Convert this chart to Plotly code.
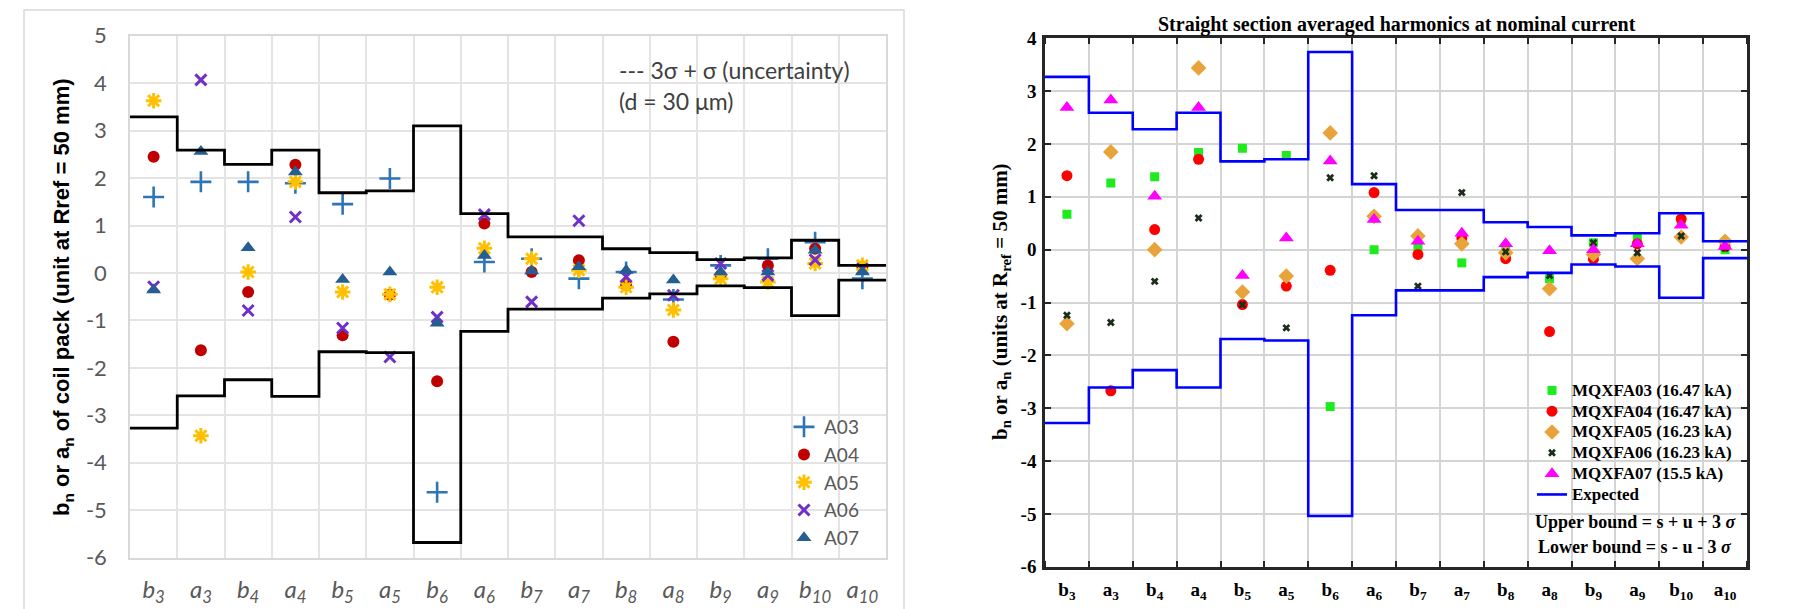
import plotly.graph_objects as go

categories = ["b3", "a3", "b4", "a4", "b5", "a5", "b6", "a6",
              "b7", "a7", "b8", "a8", "b9", "a9", "b10", "a10"]

# Left panel: coil pack harmonics
A03 = [1.60, 1.92, 1.92, 1.89, 1.45, 1.99, -4.62, 0.23, 0.30, -0.12, 0.02, -0.56, 0.16, 0.30, 0.65, -0.12]
A04 = [2.45, -1.63, -0.40, 2.28, -1.31, -0.46, -2.28, 1.04, 0.02, 0.27, -0.26, -1.45, -0.05, 0.16, 0.51, 0.13]
A05 = [3.63, -3.43, 0.02, 1.92, -0.40, -0.45, -0.30, 0.52, 0.30, 0.06, -0.30, -0.78, -0.12, -0.19, 0.20, 0.16]
A06 = [-0.29, 4.07, -0.79, 1.18, -1.16, -1.77, -0.93, 1.23, -0.61, 1.10, -0.08, -0.47, 0.20, -0.05, 0.28, 0.09]
A07 = [-0.36, 2.56, 0.53, 2.13, -0.14, 0.02, -1.06, 0.37, 0.04, 0.13, 0.05, -0.15, 0.02, 0.02, 0.48, 0.02]
left_upper = [3.29, 2.59, 2.29, 2.59, 1.69, 1.73, 3.10, 1.25, 0.76, 0.76, 0.51, 0.43, 0.28, 0.32, 0.69, 0.16]
left_lower = [-3.27, -2.59, -2.25, -2.60, -1.66, -1.68, -5.68, -1.23, -0.76, -0.76, -0.53, -0.44, -0.27, -0.31, -0.90, -0.15]
left_yticks = [5, 4, 3, 2, 1, 0, -1, -2, -3, -4, -5, -6]

# Right panel: magnet averaged harmonics
MQXFA03 = [0.67, 1.26, 1.38, 1.84, 1.92, 1.78, -2.97, 0.00, 0.06, -0.25, 0.02, -0.55, 0.13, 0.21, 0.50, 0.00]
MQXFA04 = [1.40, -2.67, 0.38, 1.71, -1.04, -0.69, -0.39, 1.08, -0.09, 0.22, -0.17, -1.55, -0.18, 0.11, 0.58, 0.06]
MQXFA05 = [-1.40, 1.85, 0.00, 3.44, -0.80, -0.50, 2.21, 0.63, 0.26, 0.11, -0.06, -0.74, -0.09, -0.17, 0.24, 0.16]
MQXFA06 = [-1.24, -1.38, -0.60, 0.60, -1.04, -1.48, 1.36, 1.40, -0.69, 1.08, -0.04, -0.49, 0.13, -0.06, 0.26, 0.03]
MQXFA07 = [2.69, 2.83, 1.01, 2.69, -0.49, 0.22, 1.68, 0.57, 0.16, 0.31, 0.11, -0.02, 0.00, 0.11, 0.46, 0.06]
right_upper = [3.27, 2.59, 2.28, 2.59, 1.67, 1.71, 3.74, 1.24, 0.75, 0.75, 0.52, 0.43, 0.27, 0.31, 0.69, 0.16]
right_lower = [-3.28, -2.61, -2.28, -2.61, -1.69, -1.72, -5.04, -1.24, -0.77, -0.77, -0.52, -0.44, -0.28, -0.32, -0.91, -0.16]
right_yticks = [4, 3, 2, 1, 0, -1, -2, -3, -4, -5, -6]

W, H = 1798, 609
idx = list(range(len(categories)))


def step_xy(vals):
    xs, ys = [], []
    for i, v in enumerate(vals):
        xs += [i - 0.5, i + 0.5]
        ys += [v, v]
    return xs, ys


fig = go.Figure()

GRAY_TXT = "#595959"
# ---------- left panel ----------
left_series = [
    ("A03", A03, dict(symbol="cross-thin-open", size=15, color="#2E75B6", line=dict(width=2.6, color="#2E75B6"))),
    ("A04", A04, dict(symbol="circle", size=12, color="#C00000")),
    ("A05", A05, dict(symbol="asterisk-open", size=13, color="#FFC000", line=dict(width=3, color="#FFC000"))),
    ("A06", A06, dict(symbol="x-thin-open", size=11, color="#7030C8", line=dict(width=3, color="#7030C8"))),
    ("A07", A07, dict(symbol="triangle-up", size=13, color="#255E91")),
]
for name, vals, mk in left_series:
    fig.add_trace(go.Scatter(x=idx, y=vals, mode="markers", name=name, marker=mk,
                             xaxis="x", yaxis="y", legend="legend"))
for vals in (left_upper, left_lower):
    xs, ys = step_xy(vals)
    fig.add_trace(go.Scatter(x=xs, y=ys, mode="lines", line=dict(color="black", width=2.8),
                             showlegend=False, xaxis="x", yaxis="y", hoverinfo="skip"))

# ---------- right panel ----------
right_series = [
    ("MQXFA03 (16.47 kA)", MQXFA03, dict(symbol="square", size=9, color="#1EEB1E")),
    ("MQXFA04 (16.47 kA)", MQXFA04, dict(symbol="circle", size=11, color="#FF0000")),
    ("MQXFA05 (16.23 kA)", MQXFA05, dict(symbol="diamond", size=12, color="#E8A33A")),
    ("MQXFA06 (16.23 kA)", MQXFA06, dict(symbol="x", size=7, color="#1A2E1A")),
    ("MQXFA07 (15.5 kA)", MQXFA07, dict(symbol="triangle-up", size=13, color="#FF00FF")),
]
for name, vals, mk in right_series:
    fig.add_trace(go.Scatter(x=idx, y=vals, mode="markers",
                             name='<span style="font-size:17px">' + name + '</span>',
                             marker=mk, xaxis="x2", yaxis="y2", legend="legend2"))
for k, vals in enumerate((right_upper, right_lower)):
    xs, ys = step_xy(vals)
    fig.add_trace(go.Scatter(x=xs, y=ys, mode="lines", line=dict(color="#0000FF", width=2.6),
                             name='<span style="font-size:17px">Expected</span>',
                             showlegend=(k == 0), xaxis="x2", yaxis="y2", legend="legend2",
                             hoverinfo="skip"))

def px_x(p):
    return p / W

def px_y(p):
    return 1 - p / H

left_ticktext = ["<i>%s<sub>%s</sub></i>" % (c[0], c[1:]) for c in categories]
right_ticktext = ["<b>%s<sub>%s</sub></b>" % (c[0], c[1:]) for c in categories]

LGRID = "#E4E4E4"
RGRID = "#D4D4D4"
fig.update_layout(
    width=W, height=H,
    margin=dict(l=0, r=0, t=0, b=0, autoexpand=False),
    paper_bgcolor="white", plot_bgcolor="white",
    showlegend=True,
    xaxis=dict(domain=[px_x(130), px_x(886)], range=[-0.5, 15.5], tickmode="array",
               tickvals=idx, ticktext=left_ticktext, showgrid=False, zeroline=False,
               ticks="", ticklabelstandoff=10, automargin=False,
               tickfont=dict(family="Lato", size=24, color=GRAY_TXT),
               minor=dict(tick0=-0.5, dtick=1, showgrid=True, gridcolor=LGRID, gridwidth=1.5),
               showline=True, linecolor="#D9D9D9", linewidth=1.5, mirror=True),
    yaxis=dict(domain=[px_y(557.7), px_y(35.7)], range=[-6, 5], tickmode="array",
               tickvals=left_yticks, ticktext=[str(v) for v in left_yticks],
               showgrid=True, gridcolor=LGRID, gridwidth=1.5, zeroline=False, ticks="",
               ticklabelstandoff=17, automargin=False,
               tickfont=dict(family="Lato", size=22, color=GRAY_TXT),
               showline=True, linecolor="#D9D9D9", linewidth=1.5, mirror=True),
    xaxis2=dict(domain=[px_x(1045), px_x(1747)], range=[-0.5, 15.5], tickmode="array",
                tickvals=idx, ticktext=right_ticktext, showgrid=False, zeroline=False,
                ticks="", ticklabelstandoff=4, automargin=False,
                tickfont=dict(family="Liberation Serif", size=19, color="black"),
                minor=dict(tick0=-0.5, dtick=1, showgrid=True, gridcolor=RGRID, gridwidth=2,
                           ticks="inside", ticklen=6, tickwidth=2, tickcolor="#262626"),
                showline=True, linecolor="#262626", linewidth=2.5, mirror="allticks",
                anchor="y2"),
    yaxis2=dict(domain=[px_y(566.7), px_y(38.3)], range=[-6, 4], tickmode="array",
                tickvals=right_yticks, ticktext=["<b>%d</b>" % v for v in right_yticks],
                showgrid=True, gridcolor=RGRID, gridwidth=2, zeroline=False,
                ticks="inside", ticklen=6, tickwidth=2, tickcolor="#262626",
                ticklabelstandoff=2, automargin=False,
                tickfont=dict(family="Liberation Serif", size=19, color="black"),
                showline=True, linecolor="#262626", linewidth=2.5, mirror="allticks",
                anchor="x2"),
    legend=dict(x=px_x(784), y=px_y(408), xanchor="left", yanchor="top",
                font=dict(family="Lato", size=19, color=GRAY_TXT),
                bgcolor="rgba(0,0,0,0)", tracegroupgap=0, itemwidth=30),
    legend2=dict(x=px_x(1532), y=px_y(375), xanchor="left", yanchor="top",
                 font=dict(family="Liberation Serif", size=13.7, color="black", weight="bold"),
                 bgcolor="rgba(0,0,0,0)", tracegroupgap=0, itemwidth=30),
)

# frame around the left panel
fig.add_shape(type="rect", xref="paper", yref="paper",
              x0=px_x(24), x1=px_x(904), y0=px_y(620), y1=px_y(10),
              line=dict(color="#D9D9D9", width=1.5), fillcolor="rgba(0,0,0,0)", layer="below")


def note(text, xp, yp, font, angle=0, xanchor="center"):
    return dict(text=text, x=px_x(xp), y=px_y(yp), xref="paper", yref="paper",
                xanchor=xanchor, yanchor="middle", textangle=angle,
                showarrow=False, font=font)


ann = [
    note("<b>b<sub>n</sub> or a<sub>n</sub> of coil pack (unit at Rref = 50 mm)</b>", 63, 297,
         dict(family="Liberation Sans", size=22, color="black"), angle=-90),
    note("--- 3σ + σ (uncertainty)", 617, 70, dict(family="Lato", size=23, color="#404040"),
         xanchor="left"),
    note("(d = 30 μm)", 617, 101, dict(family="Lato", size=23, color="#404040"), xanchor="left"),
    note("<b>Straight section averaged harmonics at nominal current</b>", 1397, 25,
         dict(family="Liberation Serif", size=20, color="black")),
    note("<b>b<sub>n</sub> or a<sub>n</sub> (units at R<sub>ref</sub> = 50 mm)</b>", 1001, 302,
         dict(family="Liberation Serif", size=21, color="black"), angle=-90),
    note("<b>Upper bound = s + u + 3 <i>σ</i></b>", 1636, 522,
         dict(family="Liberation Serif", size=18, color="black")),
    note("<b>Lower bound = s - u - 3 <i>σ</i></b>", 1635, 547,
         dict(family="Liberation Serif", size=18, color="black")),
]
fig.update_layout(annotations=ann)

fig.write_html("out.html")
